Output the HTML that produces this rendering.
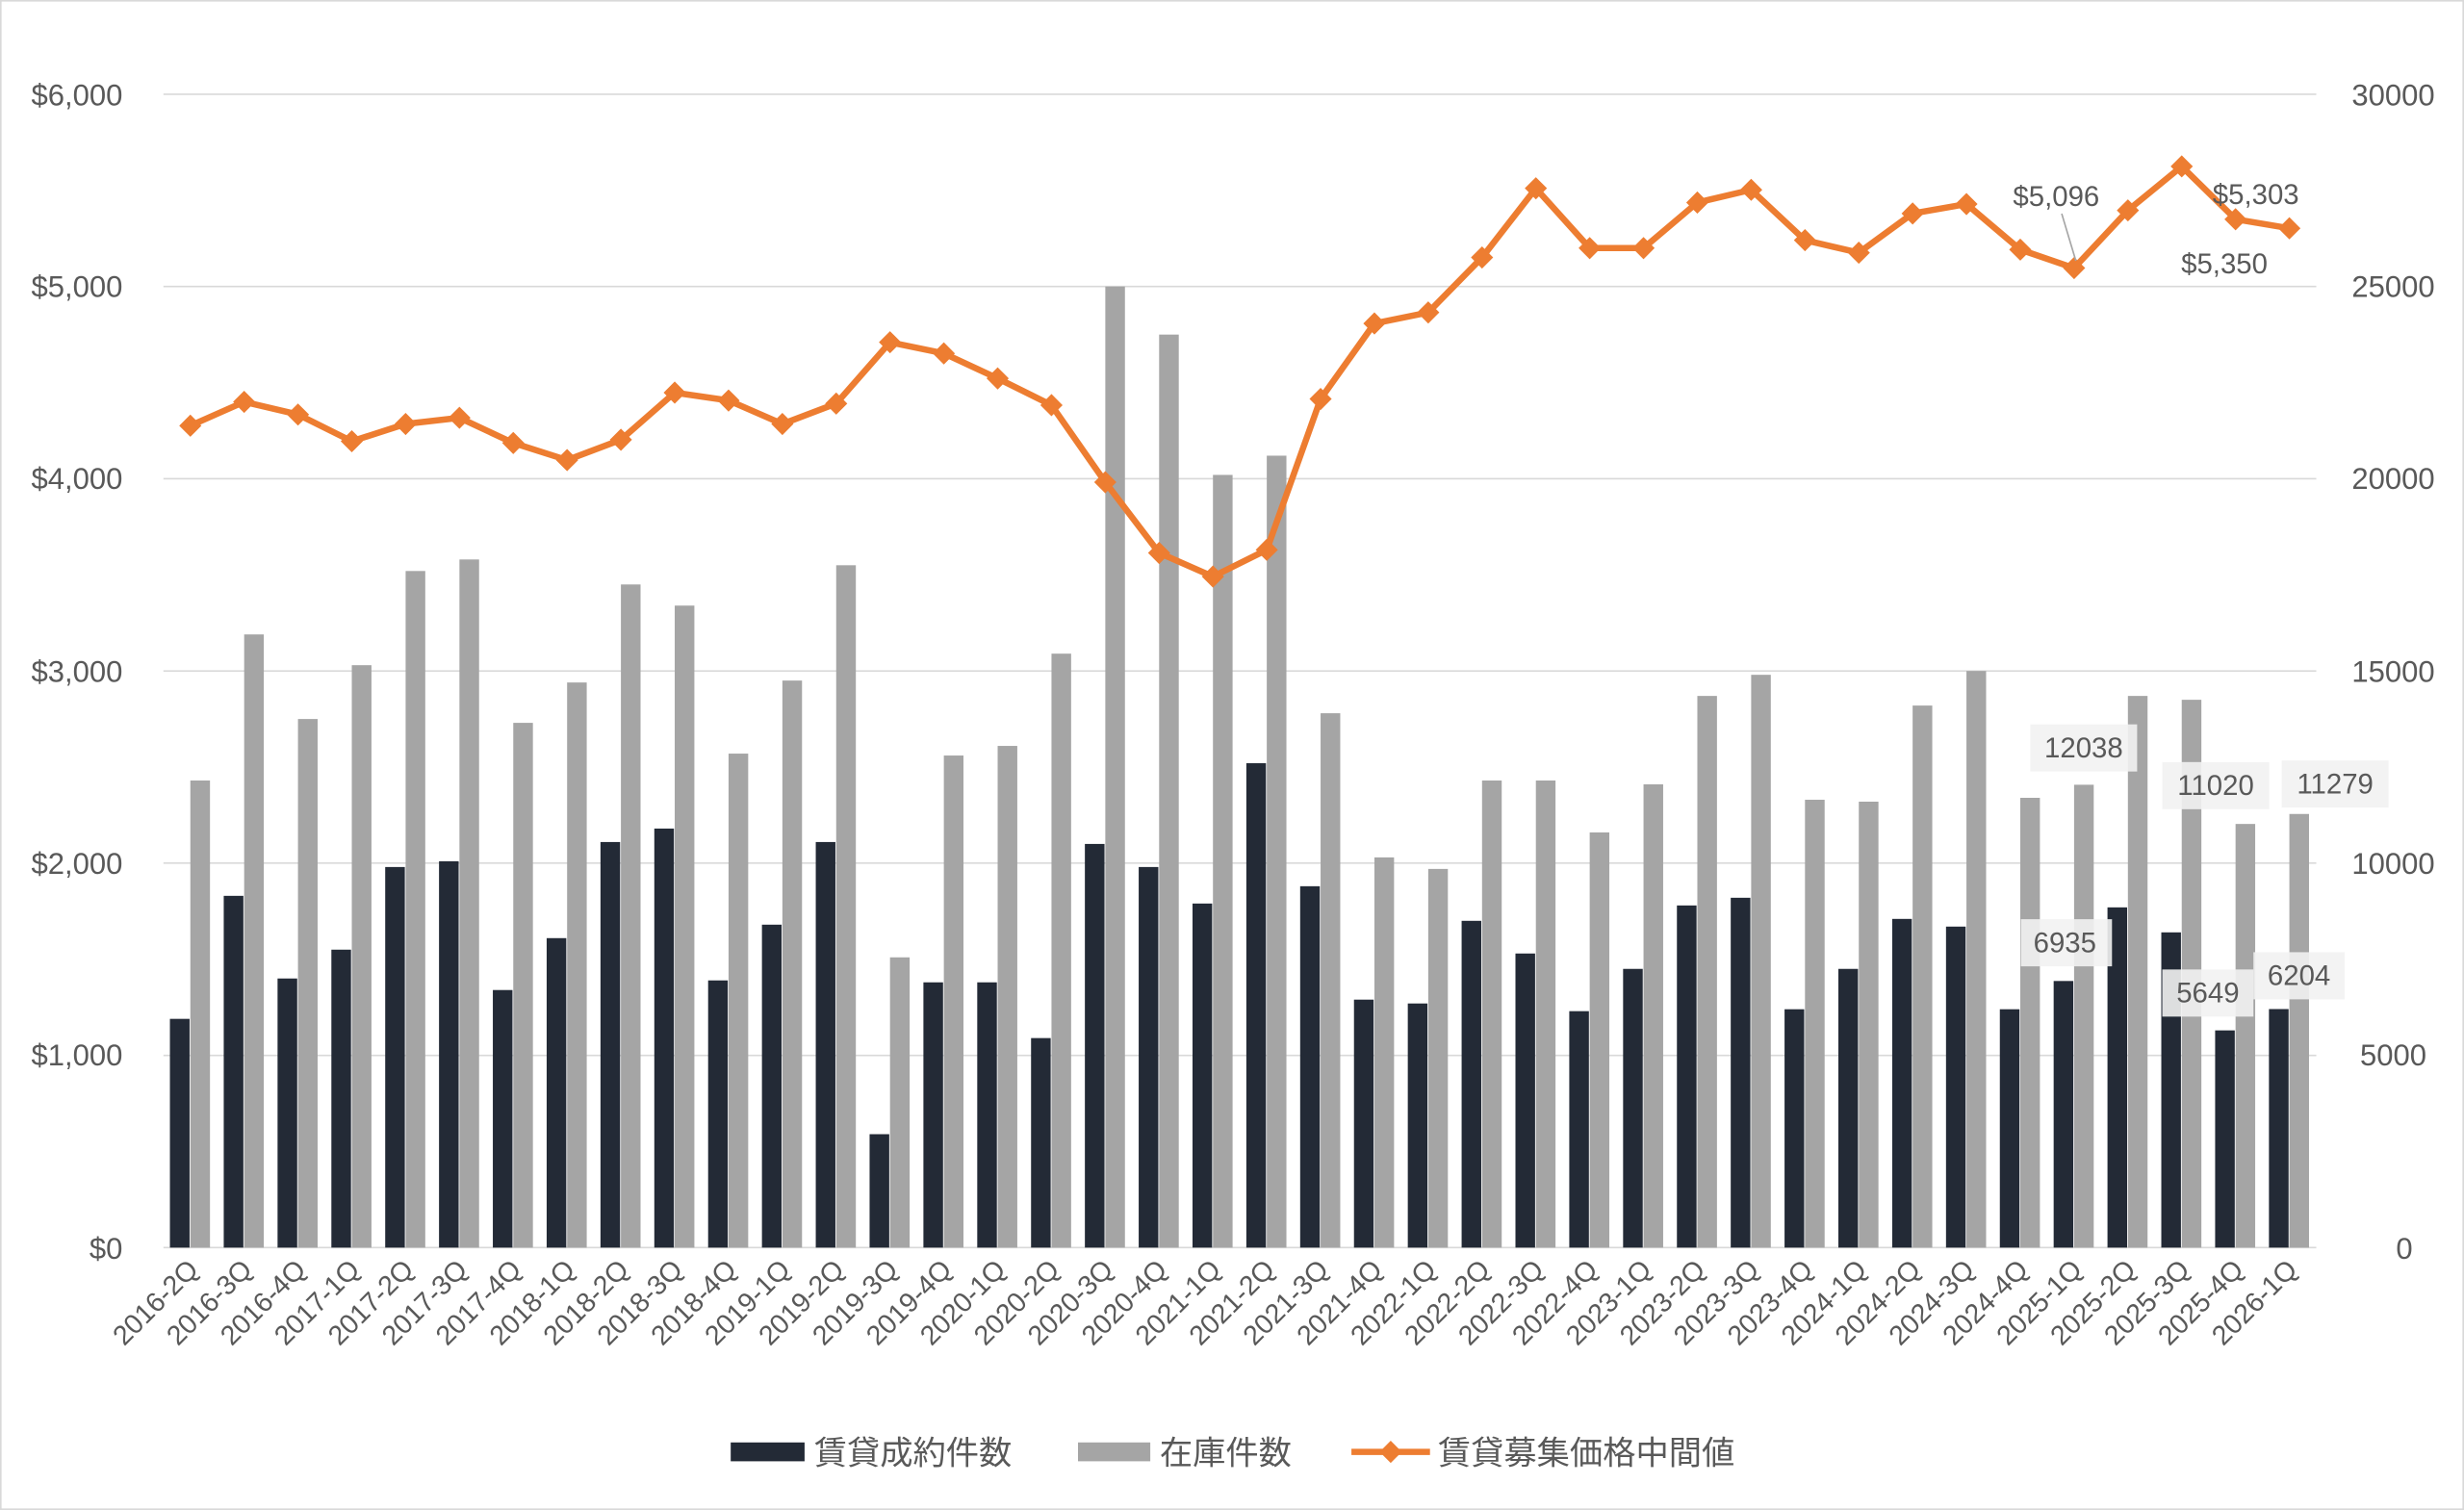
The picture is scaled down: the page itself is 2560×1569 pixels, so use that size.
<!DOCTYPE html>
<html><head><meta charset="utf-8"><style>
html,body{margin:0;padding:0;background:#fff;}
svg{display:block;}
text{font-family:"Liberation Sans","Noto Sans CJK JP",sans-serif;fill:#595959;}
</style></head><body>
<svg id="c" width="2560" height="1569" viewBox="0 0 1568 961" preserveAspectRatio="none" xmlns="http://www.w3.org/2000/svg">
<rect x="0.5" y="0.5" width="1567" height="960" fill="#fff" stroke="#d9d9d9"/>
<g stroke="#d9d9d9" stroke-width="1">
<line x1="104" x2="1474" y1="60" y2="60"/><line x1="104" x2="1474" y1="182.3" y2="182.3"/>
<line x1="104" x2="1474" y1="304.7" y2="304.7"/><line x1="104" x2="1474" y1="427" y2="427"/>
<line x1="104" x2="1474" y1="549.3" y2="549.3"/><line x1="104" x2="1474" y1="671.7" y2="671.7"/>
<line x1="104" x2="1474" y1="794" y2="794"/>
</g>
<g font-size="19" text-anchor="end">
<text x="78" y="67">$6,000</text><text x="78" y="189">$5,000</text><text x="78" y="311">$4,000</text>
<text x="78" y="434">$3,000</text><text x="78" y="556">$2,000</text><text x="78" y="678">$1,000</text><text x="78" y="801">$0</text>
</g>
<g font-size="19" text-anchor="middle">
<text x="1523" y="67">30000</text><text x="1523" y="189">25000</text><text x="1523" y="311">20000</text>
<text x="1523" y="434">15000</text><text x="1523" y="556">10000</text><text x="1523" y="678">5000</text><text x="1530" y="801">0</text>
</g>
<g id="bars"></g>
<g id="line"></g>
<g id="xl" font-size="17.5" text-anchor="end"></g>
<line x1="1312" y1="136" x2="1321" y2="166" stroke="#a5a5a5"/>
<g font-size="18">
<text x="1281" y="131">$5,096</text><text x="1408" y="130">$5,303</text><text x="1388" y="174">$5,350</text>
</g>
<g font-size="18" text-anchor="middle">
<rect x="1292" y="461" width="68" height="30" fill="#f2f2f2" opacity=".9"/><text x="1326" y="482">12038</text>
<rect x="1376" y="485" width="68" height="30" fill="#f2f2f2" opacity=".9"/><text x="1410" y="506">11020</text>
<rect x="1452" y="484" width="68" height="30" fill="#f2f2f2" opacity=".9"/><text x="1486" y="505">11279</text>
<rect x="1286" y="585" width="58" height="30" fill="#f2f2f2" opacity=".9"/><text x="1314" y="606">6935</text>
<rect x="1376" y="617" width="58" height="30" fill="#f2f2f2" opacity=".9"/><text x="1405" y="638">5649</text>
<rect x="1434" y="606" width="58" height="30" fill="#f2f2f2" opacity=".9"/><text x="1463" y="627">6204</text>
</g>
<rect x="465" y="918" width="47" height="12" fill="#232a36"/>
<text x="518" y="932" font-size="21">賃貸成約件数</text>
<rect x="686" y="918" width="46" height="12" fill="#a5a5a5"/>
<text x="738" y="932" font-size="21">在庫件数</text>
<line x1="860" x2="910" y1="924" y2="924" stroke="#ed7d31" stroke-width="4"/>
<rect x="880" y="919" width="10" height="10" fill="#ed7d31" transform="rotate(45 885 924)"/>
<text x="915" y="932" font-size="21">賃貸募集価格中間値</text>
</svg>
<script>
var L=["2016-2Q","2016-3Q","2016-4Q","2017-1Q","2017-2Q","2017-3Q","2017-4Q","2018-1Q","2018-2Q","2018-3Q","2018-4Q","2019-1Q","2019-2Q","2019-3Q","2019-4Q","2020-1Q","2020-2Q","2020-3Q","2020-4Q","2021-1Q","2021-2Q","2021-3Q","2021-4Q","2022-1Q","2022-2Q","2022-3Q","2022-4Q","2023-1Q","2023-2Q","2023-3Q","2023-4Q","2024-1Q","2024-2Q","2024-3Q","2024-4Q","2025-1Q","2025-2Q","2025-3Q","2025-4Q","2026-1Q"];
var D=[1190,1830,1400,1550,1980,2010,1340,1610,2110,2180,1390,1680,2110,590,1380,1380,1090,2100,1980,1790,2520,1880,1290,1270,1700,1530,1230,1450,1780,1820,1240,1450,1710,1670,1240,1387,1770,1640,1130,1241];
var G=[2430,3190,2750,3030,3520,3580,2730,2940,3450,3340,2570,2950,3550,1510,2560,2610,3090,5000,4750,4020,4120,2780,2030,1970,2430,2430,2160,2410,2870,2980,2330,2320,2820,3000,2340,2408,2870,2850,2204,2256];
var P=[4276,4400,4334,4195,4285,4317,4186,4097,4203,4448,4407,4285,4391,4710,4652,4522,4383,3982,3614,3491,3630,4415,4808,4865,5151,5511,5200,5200,5437,5503,5241,5176,5380,5429,5192,5096,5396,5625,5350,5303];
var ns="http://www.w3.org/2000/svg",b=document.getElementById("bars"),ln=document.getElementById("line"),xl=document.getElementById("xl");
function y(v){return 794-v*0.12233;}
function el(p,t,a){var e=document.createElementNS(ns,t);for(var k in a)e.setAttribute(k,a[k]);p.appendChild(e);return e;}
var pts=[];
for(var i=0;i<40;i++){var cx=104+34.25*(i+0.5);
el(b,"rect",{x:cx-13,y:y(D[i]),width:12.5,height:794-y(D[i]),fill:"#232a36"});
el(b,"rect",{x:cx,y:y(G[i]),width:12.5,height:794-y(G[i]),fill:"#a5a5a5"});
pts.push(cx+","+y(P[i]));
var t=el(xl,"text",{x:cx+6,y:809,transform:"rotate(-45 "+(cx+6)+" 809)"});t.textContent=L[i];}
el(ln,"polyline",{points:pts.join(" "),fill:"none",stroke:"#ed7d31","stroke-width":4,"stroke-linejoin":"round"});
for(var i=0;i<40;i++){var cx=104+34.25*(i+0.5),yy=y(P[i]);
el(ln,"rect",{x:cx-5,y:yy-5,width:10,height:10,fill:"#ed7d31",transform:"rotate(45 "+cx+" "+yy+")"});}
</script>
</body></html>
